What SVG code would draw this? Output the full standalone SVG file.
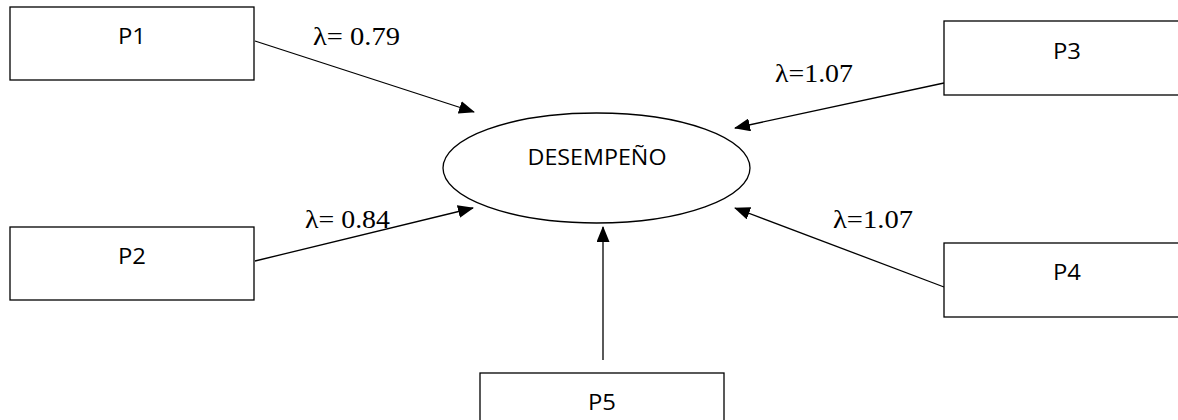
<svg xmlns="http://www.w3.org/2000/svg" width="1178" height="420" viewBox="0 0 1178 420">
  <style>
    .box { fill: #ffffff; stroke: #000000; stroke-width: 1.3; }
    .oval { fill: #ffffff; stroke: #000000; stroke-width: 1.3; }
    .lbl { font-family: "Open Sans", "Noto Sans", sans-serif; font-size: 22px; fill: #000000; text-anchor: middle; }
    .coef { font-family: "Liberation Serif", "Times New Roman", serif; font-size: 25px; fill: #000000; }
    .link { stroke: #000000; stroke-width: 1.3; fill: none; marker-end: url(#head); }
  </style>
  <defs>
    <marker id="head" markerUnits="userSpaceOnUse" markerWidth="16" markerHeight="13" refX="15" refY="6.5" orient="auto">
      <path d="M0,0 L16,6.5 L0,13 Z" fill="#000000"/>
    </marker>
  </defs>
  <rect width="1178" height="420" fill="#ffffff"/>

  <g id="connectors">
    <line class="link" x1="255" y1="41" x2="474" y2="112"/>
    <line class="link" x1="944" y1="83" x2="735" y2="128"/>
    <line class="link" x1="255" y1="261" x2="473" y2="208"/>
    <line class="link" x1="944" y1="287" x2="735" y2="208"/>
    <line class="link" x1="603" y1="360" x2="603" y2="227"/>
    <text class="coef" x="313" y="45" textLength="87" lengthAdjust="spacingAndGlyphs">λ= 0.79</text>
    <text class="coef" x="775" y="82" textLength="78" lengthAdjust="spacingAndGlyphs">λ=1.07</text>
    <text class="coef" x="305" y="228" textLength="85" lengthAdjust="spacingAndGlyphs">λ= 0.84</text>
    <text class="coef" x="833" y="228" textLength="80" lengthAdjust="spacingAndGlyphs">λ=1.07</text>
  </g>

  <g id="desempeno">
    <ellipse class="oval" cx="596.5" cy="168" rx="153.5" ry="55"/>
    <text class="lbl" x="597" y="165" textLength="139" lengthAdjust="spacingAndGlyphs">DESEMPEÑO</text>
  </g>

  <g id="p1">
    <rect class="box" x="10" y="7" width="244" height="73"/>
    <text class="lbl" x="132" y="44" textLength="28" lengthAdjust="spacingAndGlyphs">P1</text>
  </g>

  <g id="p2">
    <rect class="box" x="10" y="227" width="244" height="73"/>
    <text class="lbl" x="132" y="264" textLength="28" lengthAdjust="spacingAndGlyphs">P2</text>
  </g>

  <g id="p3">
    <rect class="box" x="944" y="21" width="246" height="74"/>
    <text class="lbl" x="1067" y="59" textLength="28" lengthAdjust="spacingAndGlyphs">P3</text>
  </g>

  <g id="p4">
    <rect class="box" x="944" y="243" width="246" height="74"/>
    <text class="lbl" x="1067" y="280" textLength="28" lengthAdjust="spacingAndGlyphs">P4</text>
  </g>

  <g id="p5">
    <rect class="box" x="480" y="373" width="244" height="74"/>
    <text class="lbl" x="602" y="410" textLength="28" lengthAdjust="spacingAndGlyphs">P5</text>
  </g>
</svg>
